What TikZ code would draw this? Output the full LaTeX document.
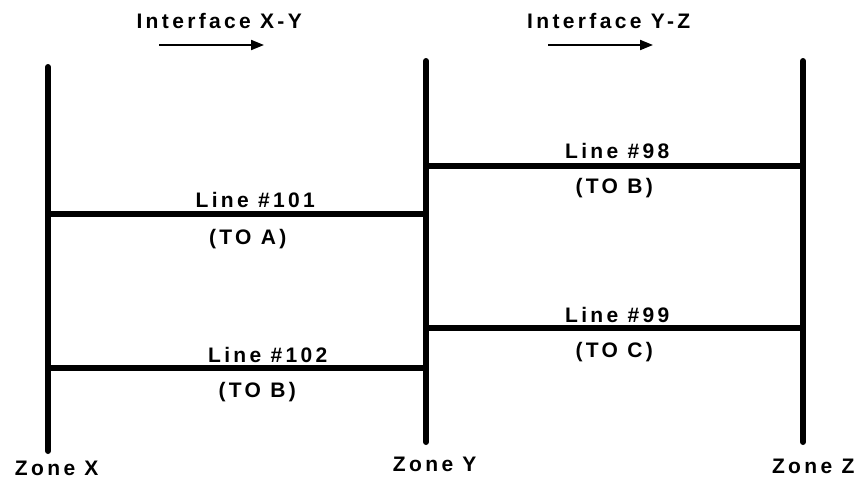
\documentclass[tikz,border=0pt]{standalone}
\usepackage{fontspec}
\setmainfont[LetterSpace=16,BoldFont={Liberation Sans Bold}]{Liberation Sans}
\usetikzlibrary{arrows.meta}
\tikzset{
  zone/.style={line width=6pt, line cap=round},
  link/.style={line width=6pt},
  lbl/.style={font=\fontsize{21}{25}\selectfont\bfseries, inner sep=0pt, anchor=base, xshift=1.7pt},
  dirarrow/.style={line width=2pt, -{Triangle[length=13pt,width=10pt]}}
}
\begin{document}
\begin{tikzpicture}[x=1pt,y=-1pt]
\useasboundingbox (0,0) rectangle (857,479);
% zone lines
\coordinate (xt) at (48,67);  \coordinate (xb) at (48,451);
\coordinate (yt) at (426,61); \coordinate (yb) at (426,442);
\coordinate (zt) at (803,61); \coordinate (zb) at (803,442);
\draw[zone] (xt) -- (xb);
\draw[zone] (yt) -- (yb);
\draw[zone] (zt) -- (zb);
% links
\coordinate (l101a) at (48,214);  \coordinate (l101b) at (426,214);
\coordinate (l102a) at (48,368);  \coordinate (l102b) at (426,368);
\coordinate (l98a) at (426,166);  \coordinate (l98b) at (803,166);
\coordinate (l99a) at (426,328);  \coordinate (l99b) at (803,328);
\draw[link] (l101a) -- (l101b);
\draw[link] (l102a) -- (l102b);
\draw[link] (l98a) -- (l98b);
\draw[link] (l99a) -- (l99b);
% link labels
\node[lbl] (t101) at (253.5,207) {Line \#101};
\node[lbl] (s101) at (246,244) {(TO A)};
\node[lbl] (t102) at (266,362) {Line \#102};
\node[lbl] (s102) at (255.5,397) {(TO B)};
\node[lbl] (t98) at (615.5,158) {Line \#98};
\node[lbl] (s98) at (612.5,193) {(TO B)};
\node[lbl] (t99) at (615.5,322) {Line \#99};
\node[lbl] (s99) at (612.5,357) {(TO C)};
% interfaces
\node[lbl] (ixy) at (217.5,28) {Interface X-Y};
\node[lbl] (iyz) at (607,28) {Interface Y-Z};
\coordinate (axy1) at (159,45); \coordinate (axy2) at (264,45);
\coordinate (ayz1) at (548,45); \coordinate (ayz2) at (653,45);
\draw[dirarrow] (axy1) -- (axy2);
\draw[dirarrow] (ayz1) -- (ayz2);
% zone names
\node[lbl] (zx) at (55,475) {Zone X};
\node[lbl] (zy) at (433,471) {Zone Y};
\node[lbl] (zz) at (811.5,473) {Zone Z};
\end{tikzpicture}
\end{document}
